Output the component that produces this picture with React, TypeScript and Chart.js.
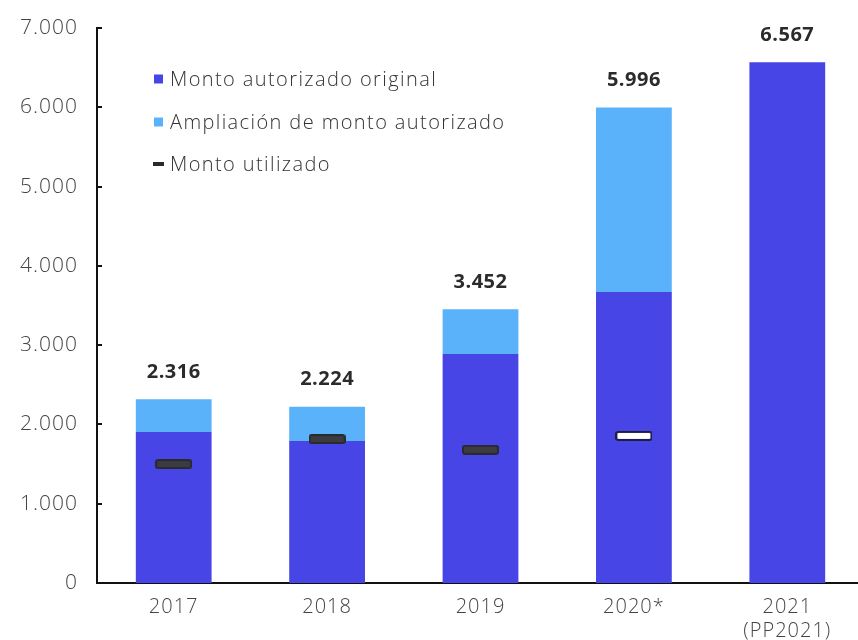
import React, { useEffect, useRef } from "react";
import { Chart, registerables } from "chart.js";

Chart.register(...registerables);

const categories: (string | string[])[] = ["2017", "2018", "2019", "2020*", ["2021", "(PP2021)"]];
const montoOriginal = [1904, 1790, 2888, 3670, 6567];
const ampliacion = [412, 434, 564, 2326, 0];
const montoUtilizado: (number | null)[] = [1500, 1815, 1680, 1855, null];
const yMax = 7000;
const yStep = 1000;

const labelOriginal = "Monto autorizado original";
const labelAmpliacion = "Ampliación de monto autorizado";
const labelUtilizado = "Monto utilizado";

const colorOriginal = "#4845e6";
const colorAmpliacion = "#5ab3fa";

const FONT = "'Open Sans', Lato, sans-serif";

function fmt(n: number): string {
  return Math.round(n)
    .toString()
    .replace(/\B(?=(\d{3})+(?!\d))/g, ".");
}

function makeMarker(fill: string, stroke: string, w = 37, h = 10): HTMLCanvasElement {
  const c = document.createElement("canvas");
  c.width = w;
  c.height = h;
  const g = c.getContext("2d")!;
  const r = 2;
  g.beginPath();
  g.moveTo(1 + r, 1);
  g.lineTo(w - 1 - r, 1);
  g.quadraticCurveTo(w - 1, 1, w - 1, 1 + r);
  g.lineTo(w - 1, h - 1 - r);
  g.quadraticCurveTo(w - 1, h - 1, w - 1 - r, h - 1);
  g.lineTo(1 + r, h - 1);
  g.quadraticCurveTo(1, h - 1, 1, h - 1 - r);
  g.lineTo(1, 1 + r);
  g.quadraticCurveTo(1, 1, 1 + r, 1);
  g.closePath();
  g.fillStyle = fill;
  g.fill();
  g.lineWidth = 2;
  g.strokeStyle = stroke;
  g.stroke();
  return c;
}

export default function App() {
  const ref = useRef<HTMLCanvasElement>(null);

  useEffect(() => {
    if (!ref.current) return;
    const darkMarker = makeMarker("#3c3c40", "#2a2a2e");
    const whiteMarker = makeMarker("#ffffff", "#1d1d45");

    const spacingPlugin = {
      id: "spacing",
      beforeLayout(chart: any) {
        (chart.ctx as any).letterSpacing = "1px";
      },
      beforeDraw(chart: any) {
        (chart.ctx as any).letterSpacing = "1px";
      },
    };

    const totalsPlugin = {
      id: "totals",
      afterDatasetsDraw(chart: any) {
        const { ctx, scales } = chart;
        ctx.save();
        ctx.letterSpacing = "0.5px";
        ctx.font = `bold 20px ${FONT}`;
        ctx.fillStyle = "#2b2b2b";
        ctx.textAlign = "center";
        ctx.textBaseline = "middle";
        montoOriginal.forEach((v, i) => {
          const total = v + ampliacion[i];
          const x = scales.x.getPixelForValue(i);
          const y = scales.y.getPixelForValue(total);
          ctx.fillText(fmt(total), x, y - 27);
        });
        ctx.restore();
      },
    };

    const innerTicksPlugin = {
      id: "innerTicks",
      afterDraw(chart: any) {
        const { ctx, scales, chartArea } = chart;
        ctx.save();
        ctx.strokeStyle = "#111";
        ctx.lineWidth = 2;
        for (let v = yStep; v <= yMax; v += yStep) {
          const y = Math.round(scales.y.getPixelForValue(v));
          ctx.beginPath();
          ctx.moveTo(chartArea.left, y);
          ctx.lineTo(chartArea.left + 5, y);
          ctx.stroke();
        }
        ctx.restore();
      },
    };

    const legendPlugin = {
      id: "customLegend",
      afterDraw(chart: any) {
        const { ctx } = chart;
        const ds = chart.data.datasets;
        const items = [
          { label: ds[1].label, color: ds[1].backgroundColor, kind: "box" },
          { label: ds[2].label, color: ds[2].backgroundColor, kind: "box" },
          { label: ds[0].label, color: "#2a2a2e", kind: "dash" },
        ];
        const x0 = 154;
        const rows = [79, 122, 164];
        ctx.save();
        ctx.letterSpacing = "1.4px";
        ctx.font = `300 20px ${FONT}`;
        ctx.textBaseline = "middle";
        ctx.textAlign = "left";
        items.forEach((it, k) => {
          const y = rows[k];
          ctx.fillStyle = it.color;
          if (it.kind === "box") {
            ctx.fillRect(x0, y - 4.5, 9, 9);
          } else {
            ctx.fillRect(x0 - 1, y - 2, 11, 4);
          }
          ctx.fillStyle = "#333";
          ctx.fillText(it.label, x0 + 16, y + 1);
        });
        ctx.restore();
      },
    };

    const chart = new Chart(ref.current, {
      type: "bar",
      data: {
        labels: categories,
        datasets: [
          {
            type: "line",
            label: labelUtilizado,
            data: montoUtilizado,
            showLine: false,
            stack: "used",
            order: 0,
            pointStyle: (ctx: any) => (ctx.dataIndex === 3 ? whiteMarker : darkMarker),
            pointRadius: 5,
            borderColor: "#2a2a2e",
            backgroundColor: "#3c3c40",
          } as any,
          {
            type: "bar",
            label: labelOriginal,
            data: montoOriginal,
            backgroundColor: colorOriginal,
            stack: "a",
            order: 1,
            categoryPercentage: 1,
            barPercentage: 0.494,
          },
          {
            type: "bar",
            label: labelAmpliacion,
            data: ampliacion,
            backgroundColor: colorAmpliacion,
            stack: "a",
            order: 1,
            categoryPercentage: 1,
            barPercentage: 0.494,
          },
        ],
      },
      options: {
        responsive: false,
        animation: false,
        layout: { padding: { top: 28, right: 3, left: 0, bottom: 0 } },
        plugins: {
          legend: { display: false },
          tooltip: { enabled: false },
          title: { display: false },
        },
        scales: {
          x: {
            stacked: true,
            grid: { display: false, drawTicks: false },
            border: { display: true, color: "#111", width: 2 },
            ticks: {
              color: "#444",
              font: { family: FONT, size: 20, weight: "300" },
              padding: 12,
              maxRotation: 0,
              autoSkip: false,
            },
            afterFit: (s: any) => {
              s.height = 57;
            },
          },
          y: {
            stacked: true,
            min: 0,
            max: yMax,
            grid: { display: false, drawTicks: false },
            border: { display: true, color: "#111", width: 2 },
            ticks: {
              stepSize: yStep,
              color: "#444",
              font: { family: FONT, size: 21, weight: "300" },
              padding: 19,
              callback: (v: any) => fmt(Number(v)),
            },
            afterFit: (s: any) => {
              s.width = 97;
              s.paddingTop = 0;
              s.paddingBottom = 0;
            },
          },
        },
      } as any,
      plugins: [spacingPlugin, totalsPlugin, innerTicksPlugin, legendPlugin],
    });

    return () => chart.destroy();
  }, []);

  return (
    <div
      style={{
        position: "fixed",
        left: 0,
        top: 0,
        width: 858,
        height: 640,
        overflow: "hidden",
        background: "#fff",
      }}
    >
      <canvas ref={ref} width={870} height={640} style={{ display: "block" }} />
    </div>
  );
}
